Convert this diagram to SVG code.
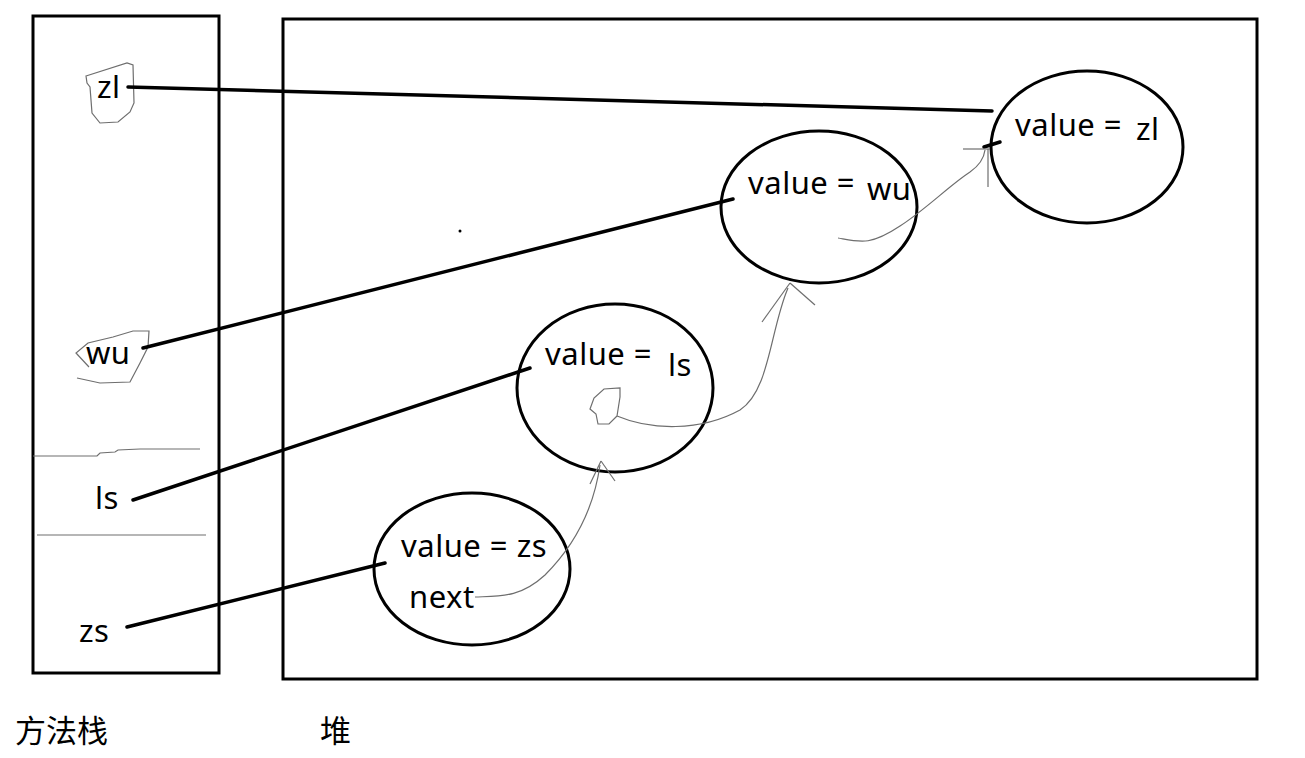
<svg xmlns="http://www.w3.org/2000/svg" width="1305" height="758" viewBox="0 0 1305 758">
<style>
.box{fill:none;stroke:#000;stroke-width:3}
.node{fill:none;stroke:#000;stroke-width:3}
.ref{fill:none;stroke:#000;stroke-width:3.5;stroke-linecap:round}
.thin{fill:none;stroke:#6e6e6e;stroke-width:1.2}
.t{font-family:"Noto Sans","Open Sans",sans-serif;font-size:31px;letter-spacing:0.5px;fill:#000}
.cjk{font-family:"Noto Sans CJK SC",sans-serif;font-size:31px;fill:#000}
</style>
<rect width="1305" height="758" fill="#fff"/>
<g id="stack">
<rect class="box" x="33" y="16" width="186" height="657"/>
<polyline class="thin" points="33,456 97,456 100,453 115,452 118,450 140,449 200,449"/>
<line class="thin" x1="37" y1="535" x2="206" y2="535"/>
<polygon class="thin" points="86,76 127,63 133,65 134,103 130,112 118,122 100,123 92,113 90,87 87,83"/>
<polyline class="thin" points="89,367 76,353 88,343 113,337 133,331 149,331 148,347 140,363 130,382 100,383 77,378"/>
<text class="t" x="97" y="98">zl</text>
<text class="t" x="86" y="364">wu</text>
<text class="t" x="95" y="509">ls</text>
<text class="t" x="79" y="642">zs</text>
</g>
<g id="heap">
<rect class="box" x="283" y="19" width="974" height="660"/>
<circle cx="460" cy="231" r="1.5" fill="#000"/>
</g>
<g id="node-zl">
<ellipse class="node" cx="1087" cy="147" rx="96" ry="76"/>
<text class="t" x="1015" y="136">value = </text>
<text class="t" x="1136" y="140">zl</text>
</g>
<g id="node-wu">
<ellipse class="node" cx="819" cy="207" rx="98" ry="76"/>
<text class="t" x="748" y="194">value = </text>
<text class="t" x="867" y="200">wu</text>
</g>
<g id="node-ls">
<ellipse class="node" cx="615" cy="388" rx="98" ry="84"/>
<text class="t" x="545" y="365">value = </text>
<text class="t" x="668" y="376">ls</text>
<path class="thin" d="M617,416 L620,397 L620,388 L604,389 L594,398 L590,409 L596,414 L598,424 L609,424 L617,416"/>
</g>
<g id="node-zs">
<ellipse class="node" cx="472" cy="569" rx="98" ry="76"/>
<text class="t" x="401" y="557">value = zs</text>
<text class="t" x="409" y="608">next</text>
</g>
<g id="connectors">
<line class="ref" x1="128" y1="87" x2="992" y2="111"/>
<line class="ref" x1="984" y1="147" x2="1000" y2="142"/>
<line class="ref" x1="143" y1="348" x2="733" y2="199"/>
<line class="ref" x1="133" y1="500" x2="530" y2="368"/>
<line class="ref" x1="127" y1="627" x2="385" y2="563"/>
<path class="thin" d="M838,238 C860,242 870,246 900,226 C925,210 950,185 970,172 C980,165 984,158 985,150"/>
<line class="thin" x1="963" y1="149" x2="990" y2="149"/>
<line class="thin" x1="988" y1="149" x2="988" y2="187"/>
<path class="thin" d="M617,416 C650,430 700,432 740,410 C770,390 770,330 788,288"/>
<line class="thin" x1="790" y1="283" x2="762" y2="322"/>
<line class="thin" x1="790" y1="283" x2="815" y2="305"/>
<path class="thin" d="M475,597 C500,596 520,598 545,575 C580,540 595,500 600,465"/>
<line class="thin" x1="601" y1="461" x2="590" y2="484"/>
<line class="thin" x1="601" y1="461" x2="615" y2="481"/>
</g>
<g id="labels">
<text class="cjk" x="15" y="742">方法栈</text>
<text class="cjk" x="320" y="742">堆</text>
</g>
</svg>
